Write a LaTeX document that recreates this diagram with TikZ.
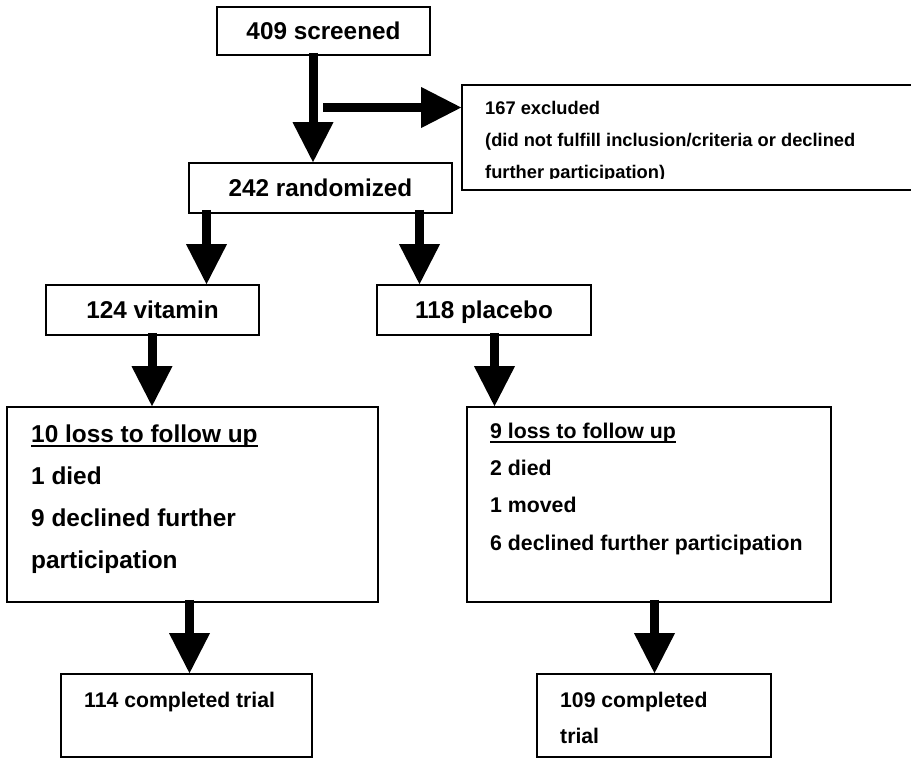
\documentclass[tikz,border=0pt]{standalone}
\usepackage{fontspec}
\setmainfont{Liberation Sans}
\usetikzlibrary{arrows.meta}
\newcommand\myul[1]{\setbox0=\hbox{#1}\rlap{\rule[-4.5pt]{\wd0}{1.2pt}}\box0}
\begin{document}
\begin{tikzpicture}[x=1pt,y=-1pt,
  box/.style={draw=black,line width=1.7pt,inner sep=0pt,font=\bfseries\fontsize{24.3pt}{29pt}\selectfont},
  bigarrow/.style={line width=9pt,-{Triangle[width=41pt,length=40pt,line width=0pt 0 0]}},
  txt/.style={inner sep=0pt,anchor=base west,align=left}]
\useasboundingbox (0,0) rectangle (911,758);
\fill[white] (0,0) rectangle (911,758);
\clip (0,0) rectangle (911,758);
% boxes
\node[box,minimum width=213pt,minimum height=48pt] (screened) at (323.5,31) {409 screened};
\node[box,minimum width=263pt,minimum height=50pt] (randomized) at (320.5,188) {242 randomized};
\node[box,minimum width=538pt,minimum height=105pt] (excluded) at (731,137.5) {};
\node[box,minimum width=213pt,minimum height=50pt,text depth=0pt] (vitamin) at (152.5,310) {124 vitamin};
\node[box,minimum width=214pt,minimum height=50pt,text depth=0pt] (placebo) at (484,310) {118 placebo};
\node[box,minimum width=371pt,minimum height=195pt] (lossA) at (192.5,504.5) {};
\node[box,minimum width=364pt,minimum height=195pt] (lossB) at (649,504.5) {};
\node[box,minimum width=251pt,minimum height=83pt] (doneA) at (186.5,715.5) {};
\node[box,minimum width=234pt,minimum height=83pt] (doneB) at (654,715.5) {};
% texts (base anchor = baseline of the last line)
\begin{scope}
\clip (465,88) rectangle (911,178.3);
\node[txt,font=\bfseries\fontsize{18.3pt}{32pt}\selectfont] (exTxt) at (485,178)
  {167 excluded\\(did not fulfill inclusion/criteria or declined\\further participation)};
\end{scope}
\node[txt,font=\bfseries\fontsize{24.4pt}{42pt}\selectfont] (lossAtxt) at (31,568)
  {\myul{10 loss to follow up}\\1 died\\9 declined further\\participation};
\node[txt,font=\bfseries\fontsize{21.3pt}{37.3pt}\selectfont] (lossBtxt) at (490,550)
  {\myul{9 loss to follow up}\\2 died\\1 moved\\6 declined further participation};
\node[txt,font=\bfseries\fontsize{21.2pt}{36pt}\selectfont] (doneAtxt) at (84,707)
  {114 completed trial};
\node[txt,font=\bfseries\fontsize{21.2pt}{36pt}\selectfont] (doneBtxt) at (560,743)
  {109 completed\\trial};
% arrows
\draw[bigarrow] ([xshift=-10.5pt,yshift=3pt]screened.south) -- ([xshift=-7.5pt]randomized.north);
\coordinate (exStart) at (323,107.5);
\draw[bigarrow] (exStart) -- (exStart -| excluded.west);
\draw[bigarrow] ([xshift=-114pt,yshift=4pt]randomized.south) -- ([xshift=54pt]vitamin.north);
\draw[bigarrow] ([xshift=99pt,yshift=4pt]randomized.south) -- ([xshift=-64.5pt]placebo.north);
\draw[bigarrow] ([xshift=-0.5pt,yshift=3pt]vitamin.south) -- ([xshift=-40.5pt]lossA.north);
\draw[bigarrow] ([xshift=10.5pt,yshift=3pt]placebo.south) -- ([xshift=-154.5pt]lossB.north);
\draw[bigarrow] ([xshift=-3pt,yshift=3pt]lossA.south) -- ([xshift=3pt]doneA.north);
\draw[bigarrow] ([xshift=5.5pt,yshift=3pt]lossB.south) -- ([xshift=0.5pt]doneB.north);
\end{tikzpicture}
\end{document}
